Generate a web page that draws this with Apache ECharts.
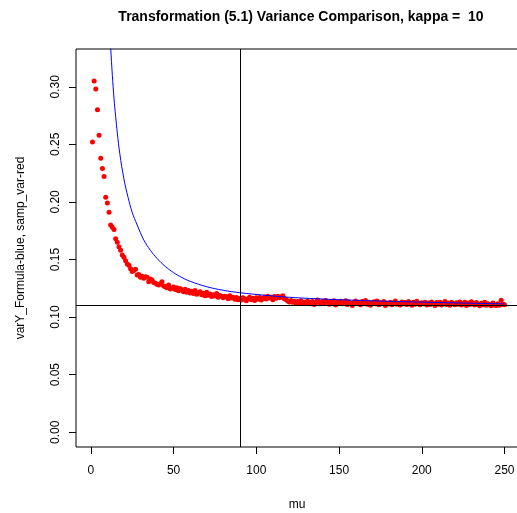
<!DOCTYPE html>
<html>
<head>
<meta charset="utf-8">
<script src="https://cdn.jsdelivr.net/npm/echarts@6/dist/echarts.min.js"></script>
<style>
  html, body { margin: 0; padding: 0; background: #fff; }
  #chart { width: 517px; height: 513px; }
</style>
</head>
<body>
<div id="chart"></div>
<script>
// Sample variance of the transformed variable, one value per mu = 1..250
const sampVar = [
  0.252, 0.305, 0.298, 0.280, 0.258, 0.238, 0.229, 0.222, 0.204, 0.199,
  0.191, 0.180, 0.178, 0.176, 0.168, 0.165, 0.161, 0.158, 0.154, 0.152,
  0.149, 0.146, 0.145, 0.142, 0.1395, 0.1405, 0.1415, 0.1365, 0.137, 0.1345,
  0.1355, 0.1337, 0.1350, 0.1345, 0.1307, 0.1330, 0.1322, 0.1300, 0.1293, 0.1285,
  0.1278, 0.1290, 0.1307, 0.1270, 0.1263, 0.1255, 0.1278, 0.1245, 0.1250, 0.1262,
  0.1240, 0.1255, 0.1228, 0.1248, 0.1235, 0.1220, 0.1242, 0.1215, 0.1230, 0.1210,
  0.1225, 0.1205, 0.1232, 0.1198, 0.1212, 0.1220, 0.1195, 0.1208, 0.1185, 0.1215,
  0.1190, 0.1200, 0.1178, 0.1195, 0.1183, 0.1205, 0.1172, 0.1188, 0.1180, 0.1168,
  0.1182, 0.1175, 0.1160, 0.1185, 0.1165, 0.1172, 0.1155, 0.1170, 0.1150, 0.1162,
  0.1148, 0.1168, 0.1158, 0.1142, 0.1160, 0.1172, 0.1150, 0.1163, 0.1145, 0.1168,
  0.1155, 0.1170, 0.1148, 0.1162, 0.1175, 0.1158, 0.1180, 0.1165, 0.1172, 0.1150,
  0.1178, 0.1163, 0.1182, 0.1168, 0.1175, 0.1186, 0.1160, 0.1152, 0.1140, 0.1132,
  0.1145, 0.1128, 0.1138, 0.1120, 0.1135, 0.1125, 0.1142, 0.1118, 0.1130, 0.1122,
  0.1140, 0.1115, 0.1128, 0.1135, 0.1110, 0.1125, 0.1148, 0.1130, 0.1118, 0.1138,
  0.1122, 0.1145, 0.1128, 0.1112, 0.1135, 0.1120, 0.1142, 0.1105, 0.1130, 0.1125,
  0.1138, 0.1115, 0.1128, 0.1143, 0.1110, 0.1132, 0.1120, 0.1100, 0.1127, 0.1140,
  0.1118, 0.1130, 0.1108, 0.1135, 0.1122, 0.1145, 0.1112, 0.1128, 0.1103, 0.1120,
  0.1133, 0.1115, 0.1140, 0.1108, 0.1125, 0.1118, 0.1136, 0.1100, 0.1122, 0.1113,
  0.1130, 0.1108, 0.1125, 0.1140, 0.1112, 0.1120, 0.1105, 0.1132, 0.1115, 0.1127,
  0.1110, 0.1135, 0.1118, 0.1102, 0.1128, 0.1112, 0.1138, 0.1120, 0.1108, 0.1125,
  0.1115, 0.1130, 0.1104, 0.1122, 0.1110, 0.1132, 0.1118, 0.1100, 0.1126, 0.1112,
  0.1128, 0.1106, 0.1120, 0.1135, 0.1110, 0.1123, 0.1102, 0.1130, 0.1115, 0.1108,
  0.1125, 0.1112, 0.1132, 0.1105, 0.1118, 0.1128, 0.1100, 0.1122, 0.1110, 0.1134,
  0.1115, 0.1104, 0.1126, 0.1112, 0.1098, 0.1120, 0.1108, 0.1130, 0.1102, 0.1116,
  0.1110, 0.1098, 0.1122, 0.1106, 0.1100, 0.1115, 0.1102, 0.1146, 0.1112, 0.1108
];
const muStart = 1;

// Formula variance (blue curve), sampled along mu
const formulaMu  = [10, 11, 12, 13, 14, 15, 16, 17.5, 20, 22.5, 25, 28, 32, 36, 40, 45, 50, 55, 60, 70, 80, 90, 105, 120, 140, 160, 180, 200, 225, 250];
const formulaVar = [0.395, 0.361, 0.334, 0.310, 0.290, 0.274, 0.260, 0.242, 0.220, 0.204, 0.191, 0.180, 0.167, 0.158, 0.151, 0.144, 0.1386, 0.1344, 0.1311, 0.1264, 0.1233, 0.1212, 0.1190, 0.1172, 0.1157, 0.1146, 0.1137, 0.1130, 0.1122, 0.1115];

// Reference lines
const refMu = 90;
const refVar = 0.1104;

// Axis ticks
const xTicks = [0, 50, 100, 150, 200, 250];
const yTicks = [0.00, 0.05, 0.10, 0.15, 0.20, 0.25, 0.30];

const FONT = "'Liberation Sans', Arial, Helvetica, sans-serif";

const chart = echarts.init(document.getElementById('chart'), null, { renderer: 'canvas' });

const redPoints = sampVar.map((v, i) => [muStart + i, v]);
const bluePoints = formulaMu.map((m, i) => [m, formulaVar[i]]);

chart.setOption({
  animation: false,
  backgroundColor: '#ffffff',
  grid: {
    left: 76, top: 49, width: 445, height: 398,
    outerBoundsMode: 'none',
    containLabel: false,
    show: true, borderColor: '#000', borderWidth: 1, backgroundColor: 'transparent'
  },
  graphic: [
    {
      type: 'text', x: 301, y: 17,
      style: {
        text: 'Transformation (5.1) Variance Comparison, kappa =  10',
        font: 'bold 14px ' + FONT, fill: '#000',
        textAlign: 'center', textVerticalAlign: 'middle'
      }
    },
    {
      type: 'text', x: 297, y: 505,
      style: {
        text: 'mu', font: '12px ' + FONT, fill: '#000',
        textAlign: 'center', textVerticalAlign: 'middle'
      }
    },
    {
      type: 'text', x: 21, y: 248, rotation: Math.PI / 2,
      style: {
        text: 'varY_Formula-blue, samp_var-red', font: '12px ' + FONT, fill: '#000',
        textAlign: 'center', textVerticalAlign: 'middle'
      }
    }
  ],
  xAxis: {
    type: 'value', min: -8.96, max: 259.96,
    axisLine: { show: false, onZero: false },
    splitLine: { show: false },
    axisTick: {
      show: true, inside: false, length: 7, customValues: xTicks,
      lineStyle: { color: '#000', width: 1 }
    },
    axisLabel: {
      customValues: xTicks, margin: 18, color: '#000',
      fontFamily: FONT, fontSize: 12,
      formatter: v => String(Math.round(v))
    }
  },
  yAxis: {
    type: 'value', min: -0.0128, max: 0.3328,
    axisLine: { show: false, onZero: false },
    splitLine: { show: false },
    axisTick: {
      show: true, inside: false, length: 7, customValues: yTicks,
      lineStyle: { color: '#000', width: 1 }
    },
    axisLabel: {
      customValues: yTicks, margin: 14, rotate: 90, color: '#000',
      fontFamily: FONT, fontSize: 12,
      formatter: v => v.toFixed(2)
    }
  },
  series: [
    {
      type: 'scatter',
      data: redPoints,
      symbol: 'circle', symbolSize: 5,
      itemStyle: { color: '#ff0000', opacity: 1 },
      z: 2,
      markLine: {
        silent: true, symbol: 'none', label: { show: false },
        lineStyle: { color: '#000', width: 1, type: 'solid' },
        data: [{ xAxis: refMu }, { yAxis: refVar }]
      }
    },
    {
      type: 'line',
      data: bluePoints,
      smooth: 0.4,
      showSymbol: false,
      clip: true,
      lineStyle: { color: '#0000ff', width: 1 },
      z: 3
    }
  ]
});
</script>
</body>
</html>
